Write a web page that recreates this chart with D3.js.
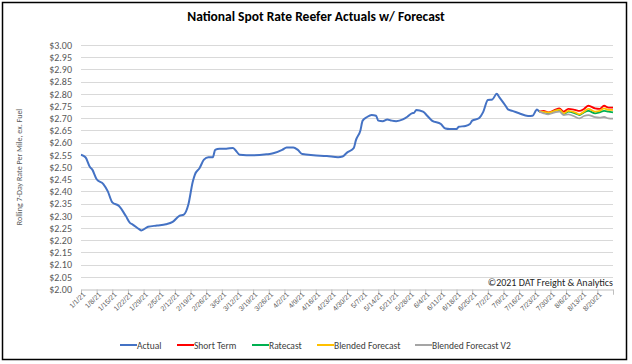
<!DOCTYPE html>
<html><head><meta charset="utf-8">
<script src="https://cdn.jsdelivr.net/npm/d3@7/dist/d3.min.js"></script>
<style>
body{margin:0;background:#fff;}
svg{display:block;font-family:Carlito,Calibri,Lato,"Open Sans",sans-serif;}
</style>
</head><body>
<svg id="chart" width="632" height="364"></svg>
<script>
// ---------- DATA ----------
const chartTitle = "National Spot Rate Reefer Actuals w/ Forecast";
const yAxisTitle = "Rolling 7-Day Rate Per Mile, ex. Fuel";
const copyright = "©2021 DAT Freight & Analytics";

const actualDates = ["2021-01-01","2021-01-03","2021-01-05","2021-01-06","2021-01-08","2021-01-11","2021-01-13","2021-01-15","2021-01-18","2021-01-21","2021-01-23","2021-01-24","2021-01-27","2021-01-28","2021-01-31","2021-02-04","2021-02-08","2021-02-11","2021-02-14","2021-02-16","2021-02-18","2021-02-20","2021-02-21","2021-02-23","2021-02-25","2021-02-27","2021-03-01","2021-03-02","2021-03-04","2021-03-07","2021-03-10","2021-03-11","2021-03-13","2021-03-16","2021-03-19","2021-03-25","2021-03-28","2021-04-01","2021-04-03","2021-04-06","2021-04-08","2021-04-10","2021-04-15","2021-04-21","2021-04-26","2021-04-28","2021-04-30","2021-05-03","2021-05-04","2021-05-06","2021-05-07","2021-05-09","2021-05-11","2021-05-13","2021-05-14","2021-05-16","2021-05-18","2021-05-20","2021-05-22","2021-05-25","2021-05-27","2021-05-29","2021-05-30","2021-05-31","2021-06-03","2021-06-05","2021-06-07","2021-06-11","2021-06-13","2021-06-15","2021-06-18","2021-06-19","2021-06-22","2021-06-24","2021-06-25","2021-06-28","2021-06-30","2021-07-02","2021-07-04","2021-07-06","2021-07-07","2021-07-10","2021-07-11","2021-07-13","2021-07-16","2021-07-20","2021-07-22","2021-07-24","2021-07-25"];
const actualValues = [2.55,2.54,2.50,2.49,2.45,2.43,2.40,2.355,2.34,2.30,2.27,2.265,2.245,2.24,2.255,2.26,2.265,2.275,2.30,2.305,2.345,2.44,2.47,2.495,2.53,2.54,2.54,2.57,2.575,2.575,2.578,2.57,2.55,2.548,2.548,2.552,2.556,2.57,2.58,2.58,2.57,2.553,2.548,2.545,2.54,2.543,2.559,2.577,2.61,2.65,2.69,2.705,2.713,2.71,2.69,2.688,2.695,2.69,2.688,2.695,2.706,2.72,2.722,2.734,2.727,2.709,2.69,2.676,2.658,2.656,2.656,2.665,2.668,2.676,2.69,2.70,2.727,2.775,2.777,2.80,2.788,2.75,2.736,2.73,2.72,2.709,2.71,2.736,2.727];

const forecastDates = ["2021-07-25","2021-07-27","2021-07-29","2021-08-01","2021-08-03","2021-08-05","2021-08-07","2021-08-10","2021-08-12","2021-08-14","2021-08-16","2021-08-19","2021-08-21","2021-08-23","2021-08-25","2021-08-27"];
const shortTermValues = [2.727,2.730,2.724,2.734,2.740,2.727,2.738,2.734,2.730,2.738,2.751,2.740,2.738,2.751,2.743,2.743];
const ratecastValues  = [2.727,2.724,2.720,2.730,2.734,2.716,2.727,2.720,2.713,2.724,2.730,2.720,2.724,2.730,2.727,2.724];
const blendedValues   = [2.727,2.726,2.723,2.730,2.735,2.720,2.730,2.724,2.716,2.727,2.738,2.727,2.730,2.740,2.734,2.734];
const blendedV2Values = [2.727,2.720,2.716,2.724,2.727,2.713,2.716,2.706,2.699,2.709,2.713,2.704,2.702,2.705,2.699,2.698];

const seriesNames  = ["Actual","Short Term","Ratecast","Blended Forecast","Blended Forecast V2"];
const seriesColors = ["#4472C4","#FF0000","#00B050","#FFC000","#A5A5A5"];

const yTickValues = [2.00,2.05,2.10,2.15,2.20,2.25,2.30,2.35,2.40,2.45,2.50,2.55,2.60,2.65,2.70,2.75,2.80,2.85,2.90,2.95,3.00];
const xTickLabels = ["1/1/21","1/8/21","1/15/21","1/22/21","1/29/21","2/5/21","2/12/21","2/19/21","2/26/21","3/5/21","3/12/21","3/19/21","3/26/21","4/2/21","4/9/21","4/16/21","4/23/21","4/30/21","5/7/21","5/14/21","5/21/21","5/28/21","6/4/21","6/11/21","6/18/21","6/25/21","7/2/21","7/9/21","7/16/21","7/23/21","7/30/21","8/6/21","8/13/21","8/20/21"];
const xDomain = ["2021-01-01","2021-08-27"];

// ---------- CHART ----------
const svg = d3.select("#chart");
const W = 632, H = 364;
const plot = {left: 81, right: 613, top: 45, bottom: 289};
const parseISO = d3.timeParse("%Y-%m-%d");
const parseLbl = d3.timeParse("%-m/%-d/%y");

const x = d3.scaleTime().domain(xDomain.map(parseISO)).range([plot.left, plot.right]);
const y = d3.scaleLinear().domain([2.0, 3.0]).range([plot.bottom, plot.top]);

// frame
svg.append("rect").attr("x",2.5).attr("y",2.5).attr("width",624).attr("height",357)
  .attr("fill","#fff").attr("stroke","#000").attr("stroke-width",1.5);

// title
svg.append("text").attr("x",316).attr("y",21).attr("text-anchor","middle")
  .attr("font-size",13.5).attr("font-weight","bold").attr("fill","#000").text(chartTitle);

// gridlines
svg.append("g").selectAll("line").data(yTickValues.slice(1)).join("line")
  .attr("x1",plot.left).attr("x2",plot.right)
  .attr("y1",d=>Math.round(y(d))+0.5).attr("y2",d=>Math.round(y(d))+0.5)
  .attr("stroke","#D9D9D9").attr("stroke-width",1);

// y axis labels
const yAxis = d3.axisLeft(y).tickValues(yTickValues).tickFormat(d3.format("$.2f")).tickSize(0).tickPadding(0);
const gy = svg.append("g").attr("transform",`translate(${plot.left-9},0)`).call(yAxis);
gy.select(".domain").remove();
gy.selectAll("text").attr("font-size",10).attr("fill","#595959").attr("font-family","Carlito,Calibri,Lato,sans-serif");

// y axis title
svg.append("text").attr("transform",`translate(22,${(plot.top+plot.bottom)/2}) rotate(-90)`)
  .attr("text-anchor","middle").attr("font-size",8).attr("fill","#595959").text(yAxisTitle);

// x axis
const tickDates = xTickLabels.map(parseLbl).concat([parseISO(xDomain[1])]);
const xAxis = d3.axisBottom(x).tickValues(tickDates)
  .tickFormat((d,i)=> i < xTickLabels.length ? xTickLabels[i] : "").tickSize(5).tickPadding(2);
const gx = svg.append("g").attr("transform",`translate(0,${Math.round(plot.bottom)+0.5})`).call(xAxis);
gx.select(".domain").attr("stroke","#BFBFBF");
gx.selectAll(".tick line").attr("stroke","#BFBFBF");
gx.selectAll("text").attr("font-size",7).attr("fill","#595959")
  .attr("text-anchor","end").attr("dy","0.3em")
  .attr("transform","translate(3,4) rotate(-45)").attr("y",0).attr("x",0);

// copyright
svg.append("text").attr("x",613).attr("y",286).attr("text-anchor","end")
  .attr("font-size",10).attr("fill","#262626").text(copyright);

// lines
const line = d3.line().x(d=>x(d[0])).y(d=>y(d[1])).curve(d3.curveMonotoneX);
const fDates = forecastDates.map(parseISO);
const seriesData = [
  actualDates.map((d,i)=>[parseISO(d), actualValues[i]]),
  fDates.map((d,i)=>[d, shortTermValues[i]]),
  fDates.map((d,i)=>[d, ratecastValues[i]]),
  fDates.map((d,i)=>[d, blendedValues[i]]),
  fDates.map((d,i)=>[d, blendedV2Values[i]])
];
svg.append("g").selectAll("path").data(seriesData).join("path")
  .attr("d",line).attr("fill","none")
  .attr("stroke",(d,i)=>seriesColors[i]).attr("stroke-width",(d,i)=>i===0?2:1.8)
  .attr("stroke-linejoin","round");

// legend
const legendX = [120,177,252,317,415];
const lg = svg.append("g").selectAll("g").data(seriesNames).join("g")
  .attr("transform",(d,i)=>`translate(${legendX[i]},345)`);
lg.append("line").attr("x1",0).attr("x2",17).attr("y1",0).attr("y2",0)
  .attr("stroke",(d,i)=>seriesColors[i]).attr("stroke-width",2);
lg.append("text").attr("x",17).attr("y",3.5).attr("font-size",9.5).attr("fill","#404040").text(d=>d);
</script>
</body></html>
